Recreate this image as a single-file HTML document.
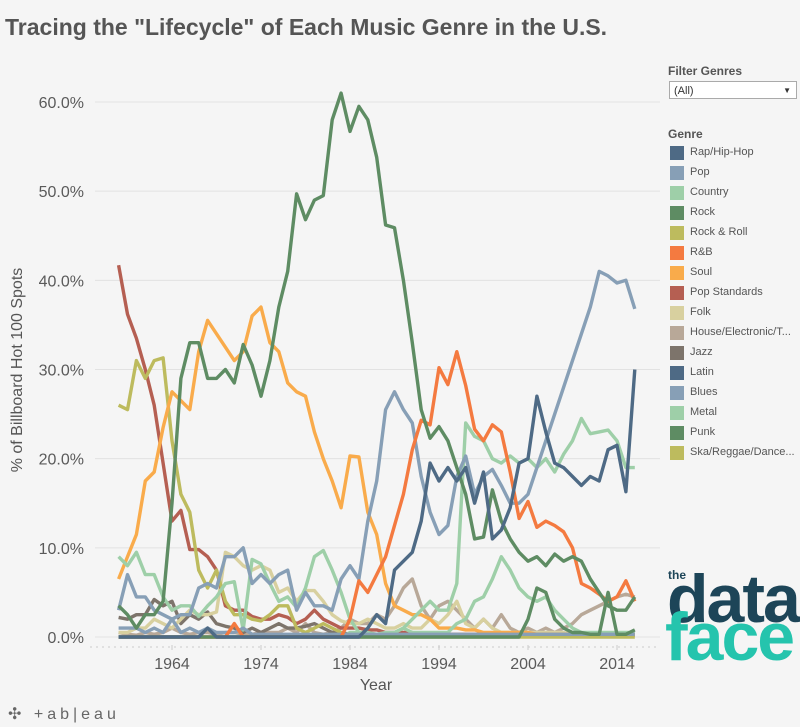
<!DOCTYPE html>
<html><head><meta charset="utf-8"><style>
body{margin:0;background:#f5f5f5;font-family:"Liberation Sans",sans-serif;}
#w{position:relative;width:800px;height:727px;overflow:hidden;background:#f5f5f5}
.t{position:absolute;white-space:nowrap}
.lg{position:absolute;left:670px;font-size:11px;color:#555}
.sw{position:absolute;left:670px;width:14px;height:14px}
</style></head><body><div id="w">
<div class="t" style="left:5px;top:14px;font-size:23px;font-weight:bold;color:#555">Tracing the "Lifecycle" of Each Music Genre in the U.S.</div>
<div class="t" style="left:668px;top:64px;font-size:12px;font-weight:bold;color:#555">Filter Genres</div>
<div style="position:absolute;left:669px;top:81px;width:128px;height:18px;border:1px solid #aaa;background:#fff;font-size:11px;color:#333;line-height:18px;box-sizing:border-box;padding-left:4px">(All)<span style="position:absolute;right:5px;top:0;font-size:8px">▼</span></div>
<div class="t" style="left:668px;top:127px;font-size:12px;font-weight:bold;color:#555">Genre</div>
<div id="leg"></div>
<svg id="s" width="800" height="727" style="position:absolute;left:0;top:0"></svg>
<div class="t" style="left:668px;top:568px;font-size:12px;font-weight:bold;color:#1d4558">the</div>
<div class="t" style="left:667px;top:560px;font-size:68px;font-weight:bold;color:#1d4558;letter-spacing:-2px">data</div>
<div class="t" style="left:665px;top:598px;font-size:68px;font-weight:bold;color:#25c4ad;letter-spacing:-2px">face</div>
<div class="t" style="left:8px;top:704px;font-size:16px;color:#666;letter-spacing:4px">✣ +ab|eau</div>
</div>
<script>
const C={rap:'#4e6a85',pop:'#879fb6',cou:'#9ecfa8',rock:'#5e8c63',rr:'#bdbb5e',rb:'#f47a40',soul:'#f9ab4b',ps:'#b55f52',folk:'#d8d09f',house:'#b8a898',jazz:'#7d746b'};
const names=[['Rap/Hip-Hop',C.rap],['Pop',C.pop],['Country',C.cou],['Rock',C.rock],['Rock & Roll',C.rr],['R&B',C.rb],['Soul',C.soul],['Pop Standards',C.ps],['Folk',C.folk],['House/Electronic/T...',C.house],['Jazz',C.jazz],['Latin',C.rap],['Blues',C.pop],['Metal',C.cou],['Punk',C.rock],['Ska/Reggae/Dance...',C.rr]];
let L='';names.forEach((n,i)=>{let y=146+i*20;L+=`<div class="sw" style="top:${y}px;background:${n[1]}"></div><div class="lg" style="left:690px;top:${y}px">${n[0]}</div>`});
document.getElementById('leg').innerHTML=L;
const X=y=>172+(y-1964)*8.9, Y=p=>637-p*8.917;
let s='';
for(let p=0;p<=60;p+=10){s+=`<line x1="95" x2="660" y1="${Y(p)}" y2="${Y(p)}" stroke="#e2e2e2"/>`;
s+=`<text x="84" y="${Y(p)+6}" text-anchor="end" font-size="16" fill="#5a5a5a" font-family="Liberation Sans">${p.toFixed(1)}%</text>`}
s+=`<line x1="90" x2="660" y1="647" y2="647" stroke="#ccc" stroke-dasharray="2,4"/>`;
for(let yr=1964;yr<=2014;yr+=10){s+=`<line x1="${X(yr)}" x2="${X(yr)}" y1="645" y2="650" stroke="#ccc"/><text x="${X(yr)}" y="669" text-anchor="middle" font-size="16" fill="#5a5a5a" font-family="Liberation Sans">${yr}</text>`}
s+=`<text x="376" y="690" text-anchor="middle" font-size="16" fill="#555" font-family="Liberation Sans">Year</text>`;
s+=`<text transform="translate(22,370) rotate(-90)" text-anchor="middle" font-size="16" fill="#555" font-family="Liberation Sans">% of Billboard Hot 100 Spots</text>`;
const D=[
[C.house,[0.5,0.3,0.2,0.5,0.3,0.5,1,0.5,0.3,0.5,0.5,0.3,0.5,0.5,0.3,0.3,0.5,0.5,0.5,1,0.5,1.5,0.5,0.3,0.5,1,2,1.5,1.5,2.5,2,3.5,5.5,6.5,3.5,2,3.5,4,3,2,1,2,1,2.5,1,0.5,1,0.5,1,0.5,1,1.5,2.5,3,3.5,4,4.5,4.8,4.5]],
[C.jazz,[2.2,2,2.5,2.5,4.2,3.5,4,1.5,2.5,2,2.8,1.5,1.2,1,0.5,1,0.5,1,1.5,1,1,1.2,1.5,1,0.5,0.5,0.3,0.3,0.3,0.2,0.2,0.2,0.2,0.2,0.2,0.2,0.2,0.2,0.2,0.2,0.2,0.2,0.2,0.2,0.2,0.2,0.2,0.2,0.2,0.2,0.2,0.2,0.2,0.2,0.2,0.2,0.2,0.2,0.2]],
[C.folk,[0.5,0.5,1,1,2,1.5,1,2,3,2.5,2.5,2.8,9.5,9,8,7.5,8,7.5,5,5.5,4,5.2,5.2,4,2.5,1.8,1.5,1.5,2,1.5,1,1,1.5,1,1,2,1.5,2.5,4,1.5,1,2,1,0.5,0.5,0.5,0.5,0.5,0.5,0.5,0.5,0.3,0.3,0.3,0.3,0.3,0.3,0.3,0.3]],
[C.ps,[41.7,36.2,33.5,30,26,19.5,13,14.2,9.8,9.8,9,7.5,3.5,3,3,2.3,2,2,2.5,2.2,1.5,2,3,2,1.5,1,1,1,0.8,0.8,0.5,0.5,0.5,0.5,0.3,0.3,0.3,0.3,0.3,0.3,0.3,0.3,0.3,0.3,0.3,0.3,0.3,0.3,0.3,0.3,0.3,0.3,0.3,0.3,0.3,0.3,0.3,0.3,0.3]],
[C.rr,[26,25.5,31,29,31,31.3,22,16,14,7.5,5.5,7.5,4,2.5,2.5,2,1.8,2.5,3.5,3.5,1,0.5,1,1.5,1,0.5,0,0,0,0,0,0,0,0,0,0,0,0,0,0,0,0,0,0,0,0,0,0,0,0,0,0,0,0,0,0,0,0,0]],
[C.soul,[6.5,9,11.5,17.5,18.5,23.5,27.5,26.5,25.5,32,35.5,34,32.5,31,32,36,37,33,32,28.5,27.5,27,23,20,17.5,14.5,20.3,20.2,14,11.5,6,3.5,3,2.5,2.5,2,1,1,1,0.8,0.8,0.5,0.5,0.5,0.5,0.5,0.5,0.3,0.3,0.3,0.3,0.3,0.3,0.3,0.3,0.3,0.3,0.3,0.3]],
[C.cou,[9,8,9.5,7,7,4.5,3,3.5,3.5,2.3,3.5,4.5,6,6.2,0.8,8.7,8.2,6,4,4.5,3.3,5.5,9,9.7,7.5,5,2,0.5,0.5,0.3,0,0.5,1,2,3,4,3,3,6,24,22.5,22,20,19.5,20.3,19.5,20,19,20,18.5,20.5,22,24.5,22.8,23,23.2,22,19,19]],
[C.cou,[0,0,0,0,0,0,0,0,0,0,0,0,0,0,0,0,0,0,0,0,0,0,0,0,0,0,0.5,0.5,0.3,0.3,0.5,0.5,1,0.5,0.5,0.5,0.5,0.5,1.5,2,4,4.5,6.5,9,7.5,5.5,4.5,4,4.5,3,2,1,0.5,0.5,0.5,0.5,0.5,0.5,0.5]],
[C.pop,[1,1,1,0.5,1,0.5,2,2.5,2.5,5.5,6,5.5,9,9,10,6,7,6,7,7.5,3,5,3.5,3.5,3,6.5,8,6.5,13,17.5,25.5,27.5,25.5,24,18,14,11.5,12.5,18,20.3,16,18,18.8,17,15,15,16,19,22,25,28,31,34,37,41,40.5,39.7,40,36.8]],
[C.pop,[3,7,4.5,4.5,3,2.5,2,0.5,1,0.5,1,0.5,0.5,0.5,1,0.3,0.3,0.3,0.3,0.3,0.3,0.3,0.3,0.3,0.3,0.3,0.3,0.3,0.3,0.3,0.3,0.3,0.3,0.3,0.3,0.3,0.3,0.3,0.3,0.3,0.3,0.3,0.3,0.3,0.3,0.3,0.3,0.3,0.3,0.3,0.3,0.3,0.3,0.3,0.3,0.3,0.3,0.3,0.3]],
[C.rb,[0,0,0,0,0,0,0,0,0,0,0,0,0,1.5,0,0,0,0,0,0,0,0,0,0,0,0,2,6.3,5,7,9,12.5,16,21,24.3,23.8,30.2,28.3,32,28.2,23.3,22,23.8,23,18.5,13.3,15.2,12.3,13,12.5,11.8,10,6,5.5,4.8,4,4.5,6.3,4]],
[C.rock,[3.5,2.5,1,2.5,2.5,4,15,29,33,33,29,29,30,28.5,32.8,30.5,27,31,37,41,49.7,46.8,49,49.5,58,61,56.7,59.5,58,53.8,46.2,45.9,40,33,25.5,22.3,23.6,22,19,16,11,11.2,16.5,13,11,9.5,8.5,9,8,9.3,8.5,9,8.5,6.5,5,3.5,3,3,4.5]],
[C.rock,[0,0,0,0,0,0,0,0,0,0,0,0,0,0,0,0,0,0,0,0,0,0,0,0,0,0,0,0,0,0,0,0,0,0,0,0,0,0,0,0,0,0,0,0,0,0,2,5.5,5,2,1,0.5,0.5,0.3,0.3,5,0.3,0.3,0.8]],
[C.rap,[0,0,0,0,0,0,0,0,0,0,1,0,0,0,0,0,0,0,0,0,0,0,0,0,0,0,0,0,1,2.5,1.5,7.5,8.5,9.5,13,19.5,17.5,19,17.5,19,15,18.5,11,12,14.5,19.5,20,27,23,19.5,19,18,17,18,17.5,21,21.5,16.3,30]]
];
D.forEach(d=>{let pts=d[1].map((v,i)=>X(1958+i).toFixed(1)+','+Y(v).toFixed(1)).join(' ');
s+=`<polyline points="${pts}" fill="none" stroke="${d[0]}" stroke-width="3.4" stroke-linejoin="round"/>`});
document.getElementById('s').innerHTML=s;
</script></body></html>
